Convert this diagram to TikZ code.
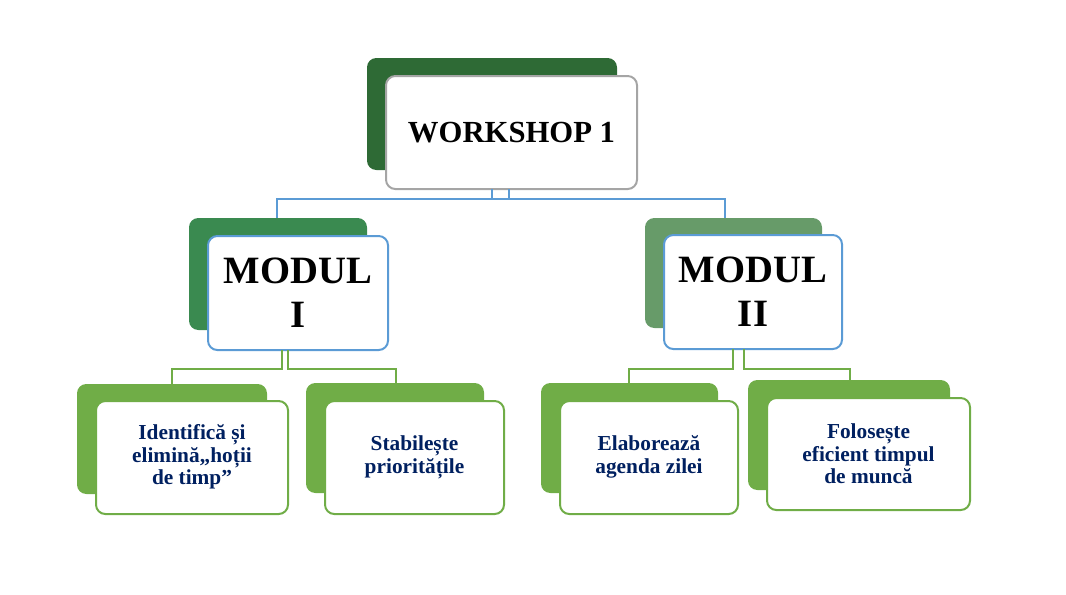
\documentclass[tikz,border=0pt]{standalone}
\usepackage{fontspec}
\setmainfont{Liberation Serif}
\definecolor{topg}{HTML}{2E6A35}
\definecolor{m1g}{HTML}{3A8A50}
\definecolor{m2g}{HTML}{679B69}
\definecolor{lg}{HTML}{70AD47}
\definecolor{bl}{HTML}{5B9BD5}
\definecolor{gr}{HTML}{A5A5A5}
\definecolor{navy}{HTML}{002060}
\tikzset{
 back/.style={rounded corners=7pt},
 front/.style={fill=white,rounded corners=7pt,line width=1.5pt},
 lbl/.style={align=center,font=\bfseries},
 conn/.style={line width=1.2pt}
}
\begin{document}
\begin{tikzpicture}[x=0.75pt,y=-0.75pt]
\useasboundingbox (0,0) rectangle (1066,594);
% top
\fill[topg,back] (367,58) rectangle (617,170);
\draw[gr,front] (386,76) rectangle (637,189);
\node[lbl,font=\bfseries\fontsize{23}{26}\selectfont] (top) at (511.5,132.5) {WORKSHOP 1};
% modules
\fill[m1g,back] (189,218) rectangle (367,330);
\draw[bl,front] (208,236) rectangle (388,350);
\node[lbl,font=\bfseries\fontsize{29}{33}\selectfont] (m1) at (298,293) {MODUL\\I};
\fill[m2g,back] (645,218) rectangle (822,328);
\draw[bl,front] (664,235) rectangle (842,349);
\node[lbl,font=\bfseries\fontsize{29}{33}\selectfont] (m2) at (753,292) {MODUL\\II};
% leaves
\fill[lg,back] (77,384) rectangle (267,494);
\draw[lg,front] (96,401) rectangle (288,514);
\node[lbl,navy,font=\bfseries\fontsize{16}{17}\selectfont] (l1) at (192,457) {Identifică și\\elimină„hoții\\de timp”};
\fill[lg,back] (306,383) rectangle (484,493);
\draw[lg,front] (325,401) rectangle (504,514);
\node[lbl,navy,font=\bfseries\fontsize{16}{17}\selectfont] (l2) at (414.5,457) {Stabilește\\prioritățile};
\fill[lg,back] (541,383) rectangle (718,493);
\draw[lg,front] (560,401) rectangle (738,514);
\node[lbl,navy,font=\bfseries\fontsize{16}{17}\selectfont] (l3) at (649,457) {Elaborează\\agenda zilei};
\fill[lg,back] (748,380) rectangle (950,490);
\draw[lg,front] (767,398) rectangle (970,510);
\node[lbl,navy,font=\bfseries\fontsize{16}{17}\selectfont] (l4) at (868.5,454) {Folosește\\eficient timpul\\de muncă};
% connectors
\coordinate (ta) at (492,189); \coordinate (tb) at (509,189);
\draw[bl,conn] (ta) -- (492,199) -- (277,199) -- (277,218);
\draw[bl,conn] (tb) -- (509,199) -- (725,199) -- (725,218);
\draw[bl,conn] (492,199) -- (509,199);
\draw[lg,conn] (282,350) -- (282,369) -- (172,369) -- (172,384);
\draw[lg,conn] (288,350) -- (288,369) -- (396,369) -- (396,383);
\draw[lg,conn] (733,349) -- (733,369) -- (629,369) -- (629,383);
\draw[lg,conn] (744,349) -- (744,369) -- (850,369) -- (850,380);
\end{tikzpicture}
\end{document}
